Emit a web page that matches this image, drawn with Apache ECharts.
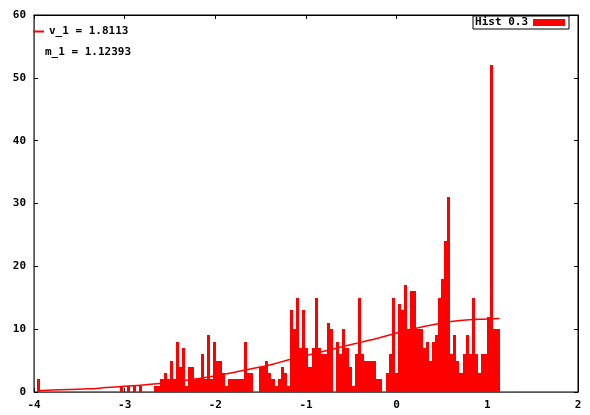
<!DOCTYPE html>
<html>
<head>
<meta charset="utf-8">
<title>Hist 0.3</title>
<script src="https://cdn.jsdelivr.net/npm/echarts@6/dist/echarts.min.js"></script>
<style>
  html, body { margin: 0; padding: 0; background: #fff; }
  #chart { width: 590px; height: 415px; }
</style>
</head>
<body>
<div id="chart"></div>
<script>
// Histogram: uniform bins starting at binStart, each binWidth wide
const binStart = -3.965;
const binWidth = 0.034;
const counts = [
  2,
  0,0,0,0,0,0,0,0,0,0,0,0,0,0,0,0,0,0,0,0,0,0,0,0,0,0,
  1,0,1,0,1,0,1,
  0,0,0,0,
  1,1,2,3,2,5,2,8,4,7,1,4,
  4,2,2,6,2,9,2,8,5,5,
  3,1,2,2,2,2,2,8,3,3,
  0,0,4,4,5,3,2,1,2,4,
  3,1,13,10,15,7,13,7,4,7,
  15,7,6,6,11,10,0,8,6,10,
  7,4,1,6,15,6,5,5,5,5,
  2,2,0,3,6,15,3,14,13,17,
  10,16,16,10,10,7,8,5,8,9,
  15,18,24,31,6,9,5,3,6,9,
  6,15,6,3,6,6,12,52,10,10
];

// Fitted curve, sampled points
const fitX = [-3.96, -3.8, -3.6, -3.4, -3.2, -3.0, -2.8, -2.6, -2.4, -2.2, -2.0, -1.8, -1.6, -1.4,
              -1.2, -1.0, -0.8, -0.6, -0.4, -0.2, 0.0, 0.2, 0.4, 0.6, 0.8, 1.0, 1.135];
const fitY = [0.2, 0.3, 0.4, 0.5, 0.7, 0.9, 1.1, 1.4, 1.7, 2.1, 2.6, 3.1, 3.7, 4.3,
              5.1, 5.8, 6.5, 7.2, 7.9, 8.6, 9.4, 10.1, 10.7, 11.2, 11.5, 11.6, 11.7];

// Axis ranges and ticks
const xTicks = { min: -4, max: 2, interval: 1 };
const yTicks = { min: 0, max: 60, interval: 10 };

const histName = 'Hist 0.3';
const fitName = 'v_1 = 1.8113';
const noteText = 'm_1 = 1.12393';

const RED = '#ff0000';
const FONT = 'DejaVu Sans Mono';

const histData = counts.map((c, k) => [binStart + k * binWidth, c]);
const fitData = fitX.map((x, i) => [x, fitY[i]]);

const labelStyle = { fontFamily: FONT, fontSize: 11, fontWeight: 'bold', color: '#000' };

const chart = echarts.init(document.getElementById('chart'), null, { renderer: 'canvas' });

const baseX = {
  type: 'value', min: xTicks.min, max: xTicks.max, interval: xTicks.interval,
  splitLine: { show: false },
  axisLine: { show: true, onZero: false, lineStyle: { color: '#555', width: 1 } },
  axisTick: { show: true, inside: true, length: 4, lineStyle: { color: '#000' } }
};
const baseY = {
  type: 'value', min: yTicks.min, max: yTicks.max, interval: yTicks.interval,
  splitLine: { show: false },
  axisLine: { show: true, onZero: false, lineStyle: { color: '#555', width: 1 } },
  axisTick: { show: true, inside: true, length: 4, lineStyle: { color: '#000' } }
};

chart.setOption({
  animation: false,
  backgroundColor: '#fff',
  grid: {
    left: 34, right: 12, top: 15, bottom: 23,
    show: true, borderColor: '#000', borderWidth: 1, backgroundColor: 'transparent'
  },
  xAxis: [
    Object.assign({}, baseX, {
      position: 'bottom',
      axisLabel: Object.assign({ margin: 8 }, labelStyle)
    }),
    Object.assign({}, baseX, {
      position: 'top',
      axisLine: { show: true, onZero: false, lineStyle: { color: '#000', width: 1 } },
      axisLabel: { show: false }
    })
  ],
  yAxis: [
    Object.assign({}, baseY, {
      position: 'left',
      axisLabel: Object.assign({ margin: 8 }, labelStyle)
    }),
    Object.assign({}, baseY, {
      position: 'right',
      axisLine: { show: true, onZero: false, lineStyle: { color: '#000', width: 1 } },
      axisLabel: { show: false }
    })
  ],
  legend: [
    {
      data: [histName],
      right: 21, top: 16,
      orient: 'vertical',
      align: 'right',
      icon: 'rect',
      itemWidth: 32, itemHeight: 7,
      itemGap: 0,
      padding: [1, 4, 1, 2],
      borderColor: '#000', borderWidth: 1,
      backgroundColor: '#fff',
      selectedMode: false,
      textStyle: labelStyle
    },
    {
      data: [fitName],
      left: 33, top: 26,
      icon: 'rect',
      itemWidth: 11, itemHeight: 2,
      padding: 0,
      selectedMode: false,
      textStyle: labelStyle
    }
  ],
  graphic: [
    {
      type: 'text', left: 45, top: 47,
      style: { text: noteText, font: 'bold 11px "' + FONT + '"', fill: '#000' }
    }
  ],
  series: [
    {
      name: histName,
      type: 'custom',
      xAxisIndex: 0, yAxisIndex: 0,
      itemStyle: { color: RED },
      encode: { x: 0, y: 1 },
      data: histData,
      renderItem: function (params, api) {
        const x0 = api.value(0);
        const h = api.value(1);
        if (!h) return null;
        const p0 = api.coord([x0, h]);
        const p1 = api.coord([x0 + binWidth, 0]);
        // snap edges to whole pixels so neighbouring boxes join without seams
        const left = Math.round(p0[0]);
        const right = Math.round(p1[0]);
        const top = Math.round(p0[1]);
        const bottom = Math.round(p1[1]);
        return {
          type: 'rect',
          shape: { x: left, y: top, width: Math.max(1, right - left), height: bottom - top },
          style: { fill: RED }
        };
      },
      z: 2
    },
    {
      name: fitName,
      type: 'line',
      xAxisIndex: 0, yAxisIndex: 0,
      data: fitData,
      smooth: true,
      showSymbol: false,
      symbol: 'none',
      lineStyle: { color: RED, width: 1.5 },
      itemStyle: { color: RED },
      z: 3
    }
  ]
});
</script>
</body>
</html>
